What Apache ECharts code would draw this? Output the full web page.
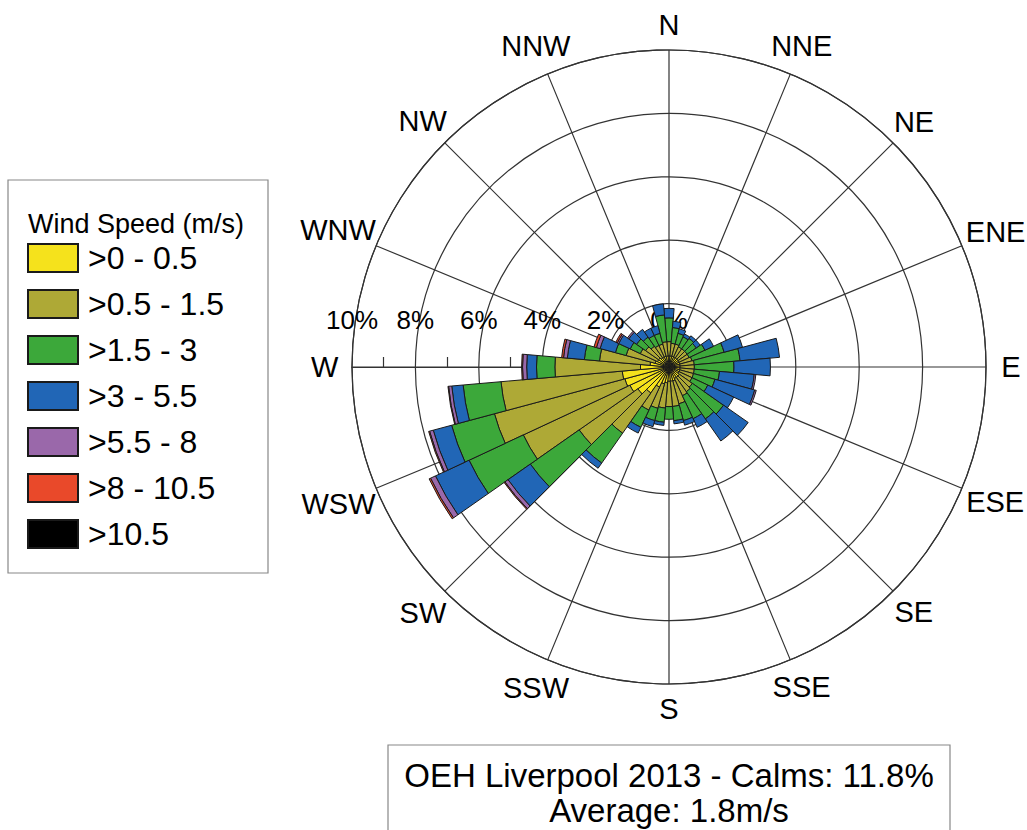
<!DOCTYPE html>
<html>
<head>
<meta charset="utf-8">
<title>Wind rose - OEH Liverpool 2013</title>
<script src="https://cdn.jsdelivr.net/npm/echarts@6/dist/echarts.min.js"></script>
<style>
  html, body { margin: 0; padding: 0; background: #fff; }
  #chart { width: 1027px; height: 830px; }
</style>
</head>
<body>
<div id="chart"></div>
<script>
// wind direction bins (degrees from north, 10 degree sectors)
const directions = [0, 10, 20, 30, 40, 50, 60, 70, 80, 90, 100, 110,
  120, 130, 140, 150, 160, 170, 180, 190, 200, 210, 220, 230,
  240, 250, 260, 270, 280, 290, 300, 310, 320, 330, 340, 350]

// compass labels and their bearings (degrees from north)
const compassLabels = ['N', 'NNE', 'NE', 'ENE', 'E', 'ESE', 'SE', 'SSE',
  'S', 'SSW', 'SW', 'WSW', 'W', 'WNW', 'NW', 'NNW']
const compassBearings = [0, 22.5, 45, 67.5, 90, 112.5, 135, 157.5,
  180, 202.5, 225, 247.5, 270, 292.5, 315, 337.5]

const speedClasses = ['>0 - 0.5', '>0.5 - 1.5', '>1.5 - 3', '>3 - 5.5', '>5.5 - 8', '>8 - 10.5', '>10.5']

// frequency (%) per direction bin for each speed class
const speed0to05 = [0.35, 0.35, 0.35, 0.35, 0.35, 0.35, 0.35, 0.35, 0.35, 0.35, 0.35, 0.35,
  0.35, 0.4, 0.4, 0.4, 0.45, 0.45, 0.45, 0.5, 0.55, 0.7, 1.0, 1.2,
  1.36, 1.44, 1.48, 0.9, 0.6, 0.45, 0.4, 0.4, 0.35, 0.35, 0.35, 0.35]
const speed05to15 = [0.45, 0.4, 0.4, 0.35, 0.35, 0.35, 0.35, 0.4, 0.45, 0.45, 0.45, 0.45,
  0.45, 0.5, 0.55, 0.6, 0.75, 0.8, 0.8, 0.8, 0.8, 0.8, 1.55, 2.26,
  3.71, 4.26, 3.84, 2.7, 1.6, 0.95, 0.6, 0.5, 0.45, 0.4, 0.4, 0.45]
const speed15to3 = [0.75, 0.5, 0.35, 0.35, 0.4, 0.35, 0.55, 1.05, 1.45, 1.25, 0.8, 0.7,
  0.55, 1.2, 1.05, 0.8, 0.55, 0.45, 0.4, 0.45, 0.4, 0.6, 1.15, 1.88,
  1.89, 1.4, 1.2, 0.58, 0.48, 0.35, 0.35, 0.35, 0.35, 0.35, 0.35, 0.85]
const speed3to55 = [0.3, 0.2, 0.15, 0.1, 0.1, 0.15, 0.3, 0.6, 1.25, 1.15, 1.1, 1.3,
  0.9, 0.95, 0.85, 0.3, 0.15, 0.1, 0, 0.1, 0.2, 0.2, 0.2, 0.86,
  1.17, 0.6, 0.36, 0.31, 0.54, 0.5, 0.4, 0.3, 0.3, 0.25, 0.25, 0.35]
const speed55to8 = [0, 0, 0, 0, 0, 0, 0, 0, 0, 0, 0.05, 0.05,
  0, 0, 0, 0, 0, 0, 0, 0, 0, 0, 0, 0.12,
  0.17, 0.12, 0.1, 0.13, 0.12, 0.12, 0.05, 0.05, 0, 0, 0, 0]
const speed8to105 = [0, 0, 0, 0, 0, 0, 0, 0, 0, 0, 0, 0,
  0, 0, 0, 0, 0, 0, 0, 0, 0, 0, 0, 0.03,
  0.05, 0.03, 0.02, 0.03, 0.06, 0.08, 0.05, 0, 0, 0, 0, 0]
const speedOver105 = [0, 0, 0, 0, 0, 0, 0, 0, 0, 0, 0, 0,
  0, 0, 0, 0, 0, 0, 0, 0, 0, 0, 0, 0,
  0, 0, 0, 0, 0, 0, 0, 0, 0, 0, 0, 0]

const classColors = ['#f5e21c', '#aea936', '#3ca83a', '#2166b6', '#9a68aa', '#e9492a', '#000000']

const fontFamily = '"Liberation Sans", Arial, sans-serif'
const gridColor = '#333'
const roseRadius = 317 // px for 10%
const compassFont = 29

const seriesValues = [speed0to05, speed05to15, speed15to3, speed3to55, speed55to8, speed8to105, speedOver105]

// compass names sit just outside the outer ring; wide names near E/W are pushed out a bit
const measureCtx = document.createElement('canvas').getContext('2d')
measureCtx.font = compassFont + 'px ' + fontFamily
function compassRadius (text, bearing) {
  const halfWidth = measureCtx.measureText(text).width / 2
  const px = 342 + 0.63 * Math.max(0, halfWidth - 10) * Math.abs(Math.sin(bearing * Math.PI / 180))
  return px / roseRadius * 10
}

const chart = echarts.init(document.getElementById('chart'), null, { renderer: 'svg' })

const series = seriesValues.map((values, i) => ({
  name: speedClasses[i],
  type: 'bar',
  coordinateSystem: 'polar',
  polarIndex: 0,
  stack: 'wind',
  barCategoryGap: '0%',
  // empty classes are left out so no zero-height sector is drawn
  data: values.map(v => (v > 0 ? v : '-')),
  itemStyle: {
    color: classColors[i],
    borderColor: '#1a1a1a',
    borderWidth: 1
  },
  emphasis: { disabled: true },
  z: 3
}))

// compass names, placed on the grid polar (angle 0 = W, clockwise)
series.push({
  name: 'compass',
  type: 'scatter',
  coordinateSystem: 'polar',
  polarIndex: 1,
  clip: false,
  silent: true,
  symbolSize: 1,
  itemStyle: { color: 'transparent' },
  label: {
    show: true,
    position: 'inside',
    align: 'center',
    verticalAlign: 'middle',
    fontSize: compassFont,
    color: '#000',
    opacity: 1,
    textBorderWidth: 0
  },
  data: compassBearings.map((b, i) => ({
    value: [compassRadius(compassLabels[i], b), (b + 90) % 360],
    label: { formatter: compassLabels[i] }
  })),
  z: 4
})

chart.setOption({
  backgroundColor: '#fff',
  animation: false,
  textStyle: { fontFamily: fontFamily },
  polar: [
    { center: [669, 367], radius: roseRadius },
    { center: [669, 367], radius: roseRadius }
  ],
  angleAxis: [
    {
      // bars: 36 sectors, first one centred on north
      polarIndex: 0,
      type: 'category',
      data: directions,
      startAngle: 95,
      clockwise: true,
      axisLine: { show: false },
      axisTick: { show: false },
      axisLabel: { show: false },
      splitLine: { show: false }
    },
    {
      // grid: 16 compass spokes, starting at W
      polarIndex: 1,
      type: 'value',
      min: 0,
      max: 360,
      interval: 22.5,
      startAngle: 180,
      clockwise: true,
      axisLine: { lineStyle: { color: gridColor, width: 1.2 } },
      axisTick: { show: false },
      axisLabel: { show: false },
      splitLine: { show: true, lineStyle: { color: gridColor, width: 1.2 } }
    }
  ],
  radiusAxis: [
    { polarIndex: 0, min: 0, max: 10, show: false },
    {
      polarIndex: 1,
      min: 0,
      max: 10,
      interval: 2,
      axisLine: { lineStyle: { color: gridColor, width: 1.2 } },
      axisTick: { show: false },
      // small marks at the odd percentages, pointing up
      minorTick: { show: true, splitNumber: 2, length: -10, lineStyle: { color: gridColor, width: 1.2 } },
      axisLabel: {
        margin: -60,
        fontSize: 26,
        color: '#000',
        formatter: '{value}%'
      },
      splitLine: { show: true, lineStyle: { color: gridColor, width: 1.2 } }
    }
  ],
  legend: {
    orient: 'vertical',
    left: 27,
    top: 242,
    padding: 0,
    itemWidth: 50,
    itemHeight: 28,
    itemGap: 14,
    icon: 'rect',
    selectedMode: false,
    data: speedClasses,
    textStyle: { fontSize: 32, color: '#000', lineHeight: 28, padding: [0, 0, 0, 5] }
  },
  graphic: [
    {
      type: 'rect',
      shape: { x: 8, y: 180, width: 260, height: 393 },
      style: { fill: '#fff', stroke: '#888', lineWidth: 1.2 },
      z: 0
    },
    {
      type: 'text',
      left: 28,
      top: 210,
      style: { text: 'Wind Speed (m/s)', fontSize: 27, fill: '#000', fontFamily: fontFamily },
      z: 1
    },
    {
      type: 'rect',
      shape: { x: 388, y: 745, width: 562, height: 100 },
      style: { fill: '#fff', stroke: '#888', lineWidth: 1.2 },
      z: 0
    },
    {
      type: 'text',
      x: 669,
      y: 775,
      style: {
        text: 'OEH Liverpool 2013 - Calms: 11.8%',
        fontSize: 33,
        lineHeight: 30,
        align: 'center',
        verticalAlign: 'middle',
        fill: '#000',
        fontFamily: fontFamily
      },
      z: 1
    },
    {
      type: 'text',
      x: 669,
      y: 810,
      style: {
        text: 'Average: 1.8m/s',
        fontSize: 33,
        lineHeight: 30,
        align: 'center',
        verticalAlign: 'middle',
        fill: '#000',
        fontFamily: fontFamily
      },
      z: 1
    }
  ],
  series: series
})
</script>
</body>
</html>
